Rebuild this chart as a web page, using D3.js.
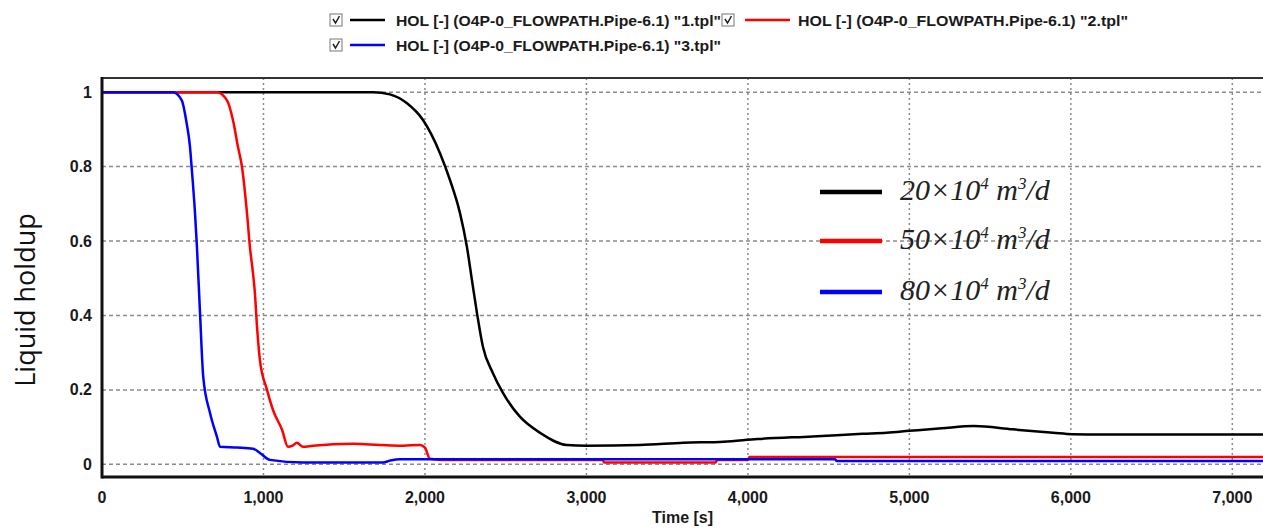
<!DOCTYPE html>
<html>
<head>
  <meta charset="utf-8">
  <script src="https://d3js.org/d3.v7.min.js"></script>
  <style type="text/css">
    body { margin: 0; background: #fff; }
    .tick-label {
      font-family: "Liberation Sans", Arial, sans-serif;
      font-weight: bold;
      font-size: 16px;
      fill: #1a1a1a;
    }
    .top-legend {
      font-family: "Liberation Sans Narrow", "Arial Narrow", "Liberation Sans", sans-serif;
      font-weight: bold;
      font-size: 15px;
      fill: #1a1a1a;
    }
    .rate-legend {
      font-family: "Liberation Serif", "Times New Roman", serif;
      font-style: italic;
      font-size: 30px;
      fill: #222;
    }
  </style>
</head>
<body>
<script type="text/javascript">
  // series data (time in s, liquid holdup)
  var blackT = [0, 1600, 1678, 1783, 1889, 1988, 2093, 2155, 2217, 2260, 2291, 2322, 2359, 2421, 2483, 2588, 2712, 2879, 3000, 3330, 3600, 3850, 4060, 4400, 4710, 4860, 5000, 5200, 5400, 5640, 5890, 6010, 6200, 7190];
  var blackV = [1, 1, 1, 0.994, 0.97, 0.925, 0.836, 0.764, 0.675, 0.584, 0.495, 0.407, 0.316, 0.245, 0.192, 0.128, 0.085, 0.052, 0.05, 0.052, 0.058, 0.061, 0.068, 0.075, 0.082, 0.085, 0.09, 0.097, 0.103, 0.094, 0.085, 0.081, 0.08, 0.08];

  var redT = [0, 712, 774, 811, 842, 867, 898, 916, 935, 947, 960, 978, 1022, 1059, 1115, 1152, 1180, 1207, 1245, 1307, 1554, 1721, 1864, 1969, 2000, 2031, 2100, 3100, 3110, 3800, 3810, 4000, 4010, 7190];
  var redV = [1, 1, 0.978, 0.925, 0.853, 0.799, 0.675, 0.584, 0.514, 0.46, 0.37, 0.28, 0.2, 0.146, 0.093, 0.047, 0.05, 0.058, 0.047, 0.05, 0.055, 0.052, 0.05, 0.052, 0.045, 0.015, 0.012, 0.012, 0.005, 0.005, 0.012, 0.012, 0.02, 0.02];

  var blueT = [0, 440, 494, 524, 545, 555, 576, 588, 607, 627, 669, 712, 731, 836, 935, 980, 1040, 1245, 1740, 1783, 1845, 4540, 4550, 7190];
  var blueV = [1, 1, 0.978, 0.917, 0.853, 0.799, 0.675, 0.584, 0.407, 0.235, 0.138, 0.074, 0.047, 0.045, 0.042, 0.03, 0.012, 0.005, 0.005, 0.01, 0.014, 0.014, 0.009, 0.009];

  var xTicks = [0, 1000, 2000, 3000, 4000, 5000, 6000, 7000];
  var yTicks = [0, 0.2, 0.4, 0.6, 0.8, 1];
  var topLegendNames = ['HOL [-] (O4P-0_FLOWPATH.Pipe-6.1) "1.tpl"', 'HOL [-] (O4P-0_FLOWPATH.Pipe-6.1) "2.tpl"', 'HOL [-] (O4P-0_FLOWPATH.Pipe-6.1) "3.tpl"'];
  var rateLabels = ['20', '50', '80'];
  var colors = ['#000000', '#ff0000', '#0000ff'];

  var width = 1263, height = 528;
  var pLeft = 102, pRight = 1263, pTop = 78, pBottom = 477;

  var svg = d3.select('body').append('svg')
      .attr('width', width)
      .attr('height', height);

  svg.append('rect').attr('width', width).attr('height', height).attr('fill', '#fff');

  var x = d3.scaleLinear().domain([0, 7190]).range([pLeft, pRight]);
  var y = d3.scaleLinear().domain([-0.034, 1.038]).range([pBottom, pTop]);

  //Gridlines
  svg.append('g').selectAll('line').data(yTicks).enter().append('line')
      .attr('x1', pLeft).attr('x2', pRight)
      .attr('y1', function(d) { return y(d); })
      .attr('y2', function(d) { return y(d); })
      .attr('stroke', '#8a8a8a')
      .attr('stroke-width', 1.5)
      .attr('stroke-dasharray', '4,3');
  svg.append('g').selectAll('line').data(xTicks.slice(1)).enter().append('line')
      .attr('x1', function(d) { return x(d); })
      .attr('x2', function(d) { return x(d); })
      .attr('y1', pTop).attr('y2', pBottom)
      .attr('stroke', '#8a8a8a')
      .attr('stroke-width', 1.5)
      .attr('stroke-dasharray', '2,3');

  //Tick labels
  svg.append('g').selectAll('text').data(yTicks).enter().append('text')
      .attr('class', 'tick-label')
      .attr('x', 92)
      .attr('y', function(d) { return y(d) + 5.5; })
      .attr('text-anchor', 'end')
      .text(function(d) { return d; });
  var fmt = d3.format(',');
  svg.append('g').selectAll('text').data(xTicks).enter().append('text')
      .attr('class', 'tick-label')
      .attr('x', function(d) { return x(d); })
      .attr('y', 503)
      .attr('text-anchor', 'middle')
      .text(function(d) { return fmt(d); });

  //Axis titles
  svg.append('text')
      .attr('class', 'tick-label')
      .attr('x', (pLeft + pRight) / 2)
      .attr('y', 523)
      .attr('text-anchor', 'middle')
      .text('Time [s]');
  svg.append('text')
      .attr('transform', 'translate(35,300) rotate(-90)')
      .attr('text-anchor', 'middle')
      .style('font-family', '"Open Sans", "DejaVu Sans", sans-serif')
      .style('font-size', '27px')
      .style('fill', '#111')
      .text('Liquid holdup');

  //Curves
  var line = d3.line()
      .curve(d3.curveMonotoneX)
      .x(function(d) { return x(d[0]); })
      .y(function(d) { return y(d[1]); });
  var series = [d3.zip(blackT, blackV), d3.zip(redT, redV), d3.zip(blueT, blueV)];
  svg.append('g').selectAll('path').data(series).enter().append('path')
      .attr('d', line)
      .attr('fill', 'none')
      .attr('stroke', function(d, i) { return colors[i]; })
      .attr('stroke-width', 2.5)
      .attr('stroke-linejoin', 'round');

  //Plot frame (left, top, bottom)
  svg.append('line').attr('x1', pLeft).attr('x2', pRight).attr('y1', pTop).attr('y2', pTop)
      .attr('stroke', '#333').attr('stroke-width', 2);
  svg.append('line').attr('x1', pLeft).attr('x2', pRight).attr('y1', pBottom).attr('y2', pBottom)
      .attr('stroke', '#111').attr('stroke-width', 3);
  svg.append('line').attr('x1', pLeft).attr('x2', pLeft).attr('y1', pTop - 1).attr('y2', pBottom + 1.5)
      .attr('stroke', '#111').attr('stroke-width', 3);

  //Top legend with check boxes
  var legendPos = [[330, 20], [722, 20], [330, 45]];
  var lg = svg.append('g').selectAll('g').data(topLegendNames).enter().append('g')
      .attr('transform', function(d, i) { return 'translate(' + legendPos[i][0] + ',' + legendPos[i][1] + ')'; });
  lg.append('rect')
      .attr('x', 0).attr('y', -6).attr('width', 12).attr('height', 12)
      .attr('fill', '#fff').attr('stroke', '#777').attr('stroke-width', 1);
  lg.append('path')
      .attr('d', 'M3,-1 L5.5,3 L9.5,-4')
      .attr('fill', 'none').attr('stroke', '#222').attr('stroke-width', 1.5);
  lg.append('line')
      .attr('x1', function(d, i) { return i == 1 ? 23 : 20; })
      .attr('x2', function(d, i) { return i == 1 ? 68 : 55; })
      .attr('y1', 0).attr('y2', 0)
      .attr('stroke', function(d, i) { return colors[i]; })
      .attr('stroke-width', 2.5);
  lg.append('text')
      .attr('class', 'top-legend')
      .attr('x', function(d, i) { return i == 1 ? 76 : 66; })
      .attr('y', 5.5)
      .attr('textLength', function(d, i) { return i == 1 ? 330 : 325; })
      .attr('lengthAdjust', 'spacingAndGlyphs')
      .text(function(d) { return d; });

  //Flow rate legend inside the plot
  var rl = svg.append('g').selectAll('g').data(rateLabels).enter().append('g')
      .attr('transform', function(d, i) { return 'translate(0,' + [192, 241, 292][i] + ')'; });
  rl.append('line')
      .attr('x1', 820).attr('x2', 882)
      .attr('y1', 0).attr('y2', 0)
      .attr('stroke', function(d, i) { return colors[i]; })
      .attr('stroke-width', 4.5);
  var rt = rl.append('text')
      .attr('class', 'rate-legend')
      .attr('x', 900)
      .attr('y', 8);
  rt.append('tspan').text(function(d) { return d + '\u00d710'; });
  rt.append('tspan').attr('dy', -11).style('font-size', '17px').text('4');
  rt.append('tspan').attr('dy', 11).text(' m');
  rt.append('tspan').attr('dy', -11).style('font-size', '17px').text('3');
  rt.append('tspan').attr('dy', 11).text('/d');
</script>
</body>
</html>
